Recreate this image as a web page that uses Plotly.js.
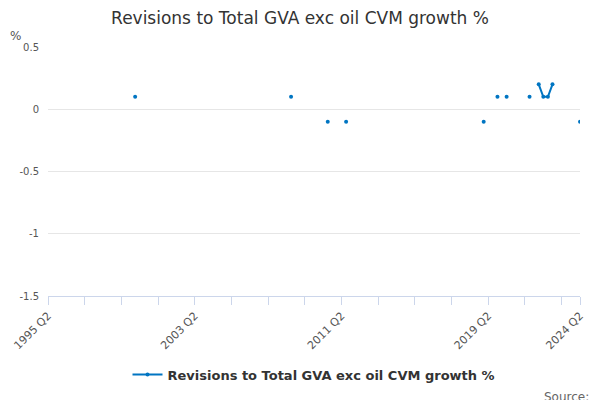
<html><head><script src="https://cdn.plot.ly/plotly-3.0.1.min.js"></script></head><body style="margin:0"><div id="c" style="width:600px;height:400px"></div><script>
const categories=[];for(let y=1995;y<=2024;y++)for(let q=1;q<=4;q++){if((y===1995&&q<2)||(y===2024&&q>2))continue;categories.push(y+' Q'+q);}
const pointQuarters=['2000 Q1','2008 Q3','2010 Q3','2011 Q3','2019 Q1','2019 Q4','2020 Q2','2021 Q3','2022 Q1','2022 Q2','2022 Q3','2022 Q4','2024 Q2'];
const pointValues=[0.1,0.1,-0.1,-0.1,-0.1,0.1,0.1,0.1,0.2,0.1,0.1,0.2,-0.1];
const values=categories.map(c=>{const i=pointQuarters.indexOf(c);return i<0?null:pointValues[i];});
const tickLabels=['1995 Q2','2003 Q2','2011 Q2','2019 Q2','2024 Q2'];
const yTicks=[0.5,0,-0.5,-1,-1.5];
const yTickText=['0.5','0','-0.5','-1','-1.5'];
const idx=categories.map((c,i)=>i);
const tv=[],tt=[];idx.forEach(i=>{const c=categories[i];if((c.endsWith('Q2')&&(parseInt(c)-1995)%2===0)||c==='2024 Q2'){tv.push(i);tt.push(tickLabels.includes(c)?c:'');}});
Plotly.newPlot('c',[{x:idx,y:values,type:'scatter',mode:'lines+markers',connectgaps:false,name:'<b>Revisions to Total GVA exc oil CVM growth %</b>',line:{color:'#0075c2',width:2},marker:{size:4,color:'#0075c2'}}],{
width:600,height:400,margin:{l:48,r:20,t:47,b:103},paper_bgcolor:'#fff',plot_bgcolor:'#fff',
font:{family:'DejaVu Sans',size:11,color:'#555'},
title:{text:'Revisions to Total GVA exc oil CVM growth %',x:0.5,y:0.97,font:{size:17,color:'#333'}},
xaxis:{range:[0,116],tickvals:tv,ticktext:tt,tickangle:-45,ticks:'outside',ticklen:8,tickcolor:'#ccd6eb',showgrid:false,showline:true,linecolor:'#ccd6eb',zeroline:false,tickfont:{size:11,color:'#555'}},
yaxis:{range:[-1.5,0.5],tickvals:yTicks,ticktext:yTickText,gridcolor:'#e6e6e6',zeroline:false,tickfont:{size:10,color:'#555'},ticklabelstandoff:8},
showlegend:true,legend:{orientation:'h',x:0.5,xanchor:'center',y:-0.25,yanchor:'top',font:{size:13,color:'#333'}},
annotations:[{text:'%',xref:'paper',yref:'paper',x:-0.075,y:1.08,showarrow:false,xanchor:'left',font:{size:12,color:'#555'}},{text:'Source:',xref:'paper',yref:'paper',x:1.02,y:-0.37,xanchor:'right',yanchor:'top',showarrow:false,font:{size:12,color:'#666'}}]
},{displayModeBar:false});
</script></body></html>
